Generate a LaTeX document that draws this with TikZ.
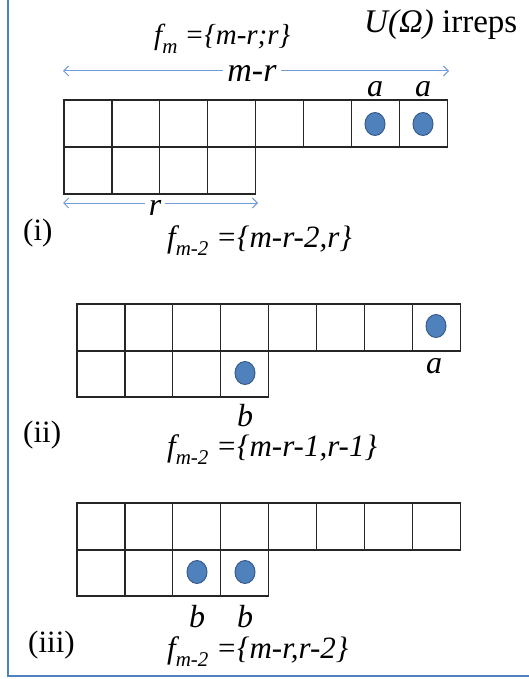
\documentclass[tikz,border=0pt]{standalone}
\usepackage{fontspec}
\setmainfont{LiberationSerif}[Extension=.ttf, UprightFont=*-Regular, ItalicFont=*-Italic, BoldFont=*-Bold, BoldItalicFont=*-BoldItalic]
\usetikzlibrary{arrows.meta, shapes.geometric}
\definecolor{FrameBlue}{HTML}{4F81BD}
\definecolor{SpanBlue}{HTML}{6F9BD6}
\definecolor{DotBlue}{HTML}{4F81BD}
\definecolor{DotEdge}{HTML}{385D8A}
\newcommand{\fsub}[1]{\textit{f}\raisebox{-0.28em}{\fontsize{21}{21}\selectfont\itshape #1}}

\begin{document}
\begin{tikzpicture}[
    x=1pt, y=-1pt,
    every node/.style={inner sep=0pt},
    label/.style={font=\fontsize{31}{36}\selectfont\itshape, anchor=base},
    letter/.style={font=\fontsize{32}{36}\selectfont\itshape, anchor=base},
    tag/.style={font=\fontsize{31}{36}\selectfont, anchor=base west},
    cell/.style={draw=black!85, line width=1.2pt},
    dot/.style={ellipse, draw=DotEdge, fill=DotBlue, line width=1pt, minimum width=20pt, minimum height=23pt},
    span/.style={{Straight Barb[length=5pt,width=10pt]}-{Straight Barb[length=5pt,width=10pt]}, draw=SpanBlue, line width=1pt}
]
\useasboundingbox (0,0) rectangle (529,679);

% frame
\draw[FrameBlue, line width=2pt] (8,0) -- (8,676) -- (529,676);

% heading
\node[label, anchor=base west, font=\fontsize{29}{34}\selectfont\itshape] (fm) at (154,45) {\fsub{m} =\{m-r;r\}};
\node[font=\fontsize{33}{38}\selectfont, anchor=base west] (irreps) at (364,33) {\textit{U(Ω)} irreps};

% (i)
\foreach \i in {0,...,7} \draw[cell] (64+\i*47.9,100) rectangle ++(47.9,47);
\foreach \i in {0,...,3} \draw[cell] (64+\i*47.9,147) rectangle ++(47.9,47);
\node[dot] (ai1) at (375,124) {};
\node[dot] (ai2) at (423,124) {};
\node[letter] (lai1) at (375,97) {a};
\node[letter] (lai2) at (423,97) {a};

\coordinate (mrL) at (63,71);
\coordinate (mrR) at (449,71);
\draw[span] (mrL) -- (mrR);
\node[letter, fill=white, inner xsep=4pt, font=\fontsize{34}{38}\selectfont\itshape] (mr) at (252,82) {m-r};

\coordinate (rL) at (63,203);
\coordinate (rR) at (258,203);
\draw[span] (rL) -- (rR);
\node[letter, fill=white, inner xsep=4pt] (r) at (155,215) {r};

\node[tag] (tagi) at (23,240) {(i)};
\node[label, anchor=base west] (fi) at (167,247) {\fsub{m-2} =\{m-r-2,r\}};

% (ii)
\foreach \i in {0,...,7} \draw[cell] (77+\i*47.9,304) rectangle ++(47.9,47);
\foreach \i in {0,...,3} \draw[cell] (77+\i*47.9,351) rectangle ++(47.9,46);
\node[dot] (aii) at (436,326) {};
\node[dot] (bii) at (245,373) {};
\node[letter] (laii) at (434,373) {a};
\node[letter] (lbii) at (245,426) {b};

\node[tag] (tagii) at (23,442) {(ii)};
\node[label, anchor=base west] (fii) at (167,456) {\fsub{m-2} =\{m-r-1,r-1\}};

% (iii)
\foreach \i in {0,...,7} \draw[cell] (77+\i*47.9,503) rectangle ++(47.9,47);
\foreach \i in {0,...,3} \draw[cell] (77+\i*47.9,550) rectangle ++(47.9,46);
\node[dot] (biii1) at (197,572) {};
\node[dot] (biii2) at (245,572) {};
\node[letter] (lbiii1) at (197,627) {b};
\node[letter] (lbiii2) at (245,627) {b};

\node[tag] (tagiii) at (28,652) {(iii)};
\node[label, anchor=base west] (fiii) at (167,658) {\fsub{m-2} =\{m-r,r-2\}};

\end{tikzpicture}
\end{document}
